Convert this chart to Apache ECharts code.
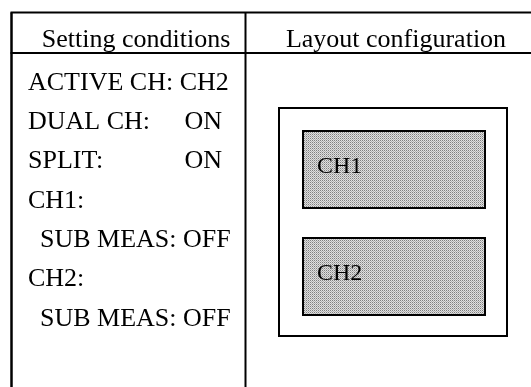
<!DOCTYPE html>
<html>
<head>
<meta charset="utf-8">
<script src="https://cdn.jsdelivr.net/npm/echarts@6/dist/echarts.min.js"></script>
<style>
html,body{margin:0;padding:0;background:#fff;}
#main{width:531px;height:387px;}
</style>
</head>
<body>
<div id="main"></div>
<script>
// ---- data ----
var headers = ['Setting conditions', 'Layout configuration'];
var settingLabels = ['ACTIVE CH: CH2', 'DUAL CH:', 'SPLIT:', 'CH1:', 'SUB MEAS: OFF', 'CH2:', 'SUB MEAS: OFF'];
var settingValues = ['', 'ON', 'ON', '', '', '', ''];
var settingLevels = [0, 0, 0, 0, 1, 0, 1];
var layoutChannels = ['CH1', 'CH2'];

// ---- halftone pattern ----
function makePattern() {
  var c = document.createElement('canvas');
  c.width = 2; c.height = 2;
  var ctx = c.getContext('2d');
  ctx.fillStyle = '#e0e0e0'; ctx.fillRect(0, 0, 2, 2);
  ctx.fillStyle = '#808080'; ctx.fillRect(0, 0, 1, 1);
  ctx.fillStyle = '#b0b0b0'; ctx.fillRect(1, 1, 1, 1);
  return { image: c, repeat: 'repeat' };
}
var pattern = makePattern();

var FONT = '"Liberation Serif","Times New Roman",serif';
var ink = '#000';
var els = [];

// table frame
var L = 11.5, T = 12.5, R = 531, B = 387, D = 245.5, H = 53;
els.push({ type: 'line', shape: { x1: L - 1, y1: T, x2: R, y2: T }, style: { stroke: ink, lineWidth: 2 } });
els.push({ type: 'line', shape: { x1: L - 1, y1: H, x2: R, y2: H }, style: { stroke: ink, lineWidth: 2 } });
els.push({ type: 'line', shape: { x1: L, y1: T, x2: L, y2: B }, style: { stroke: ink, lineWidth: 2.5 } });
els.push({ type: 'line', shape: { x1: D, y1: T, x2: D, y2: B }, style: { stroke: ink, lineWidth: 2 } });

// headers
var headerX = [136, 396];
headers.forEach(function (h, i) {
  els.push({ type: 'text', style: { text: h, x: headerX[i], y: 40, font: '26px ' + FONT, fill: ink, textAlign: 'center', textVerticalAlign: 'middle' } });
});

// settings rows
var rowStart = 83, rowStep = 39.3;
settingLabels.forEach(function (t, i) {
  var y = rowStart + i * rowStep;
  els.push({ type: 'text', style: { text: t, x: 28 + settingLevels[i] * 12, y: y, font: '26px ' + FONT, fill: ink, textAlign: 'left', textVerticalAlign: 'middle' } });
  if (settingValues[i]) {
    els.push({ type: 'text', style: { text: settingValues[i], x: 222, y: y, font: '26px ' + FONT, fill: ink, textAlign: 'right', textVerticalAlign: 'middle' } });
  }
});

// layout diagram
els.push({ type: 'rect', shape: { x: 279, y: 108, width: 228, height: 228 }, style: { fill: '#fff', stroke: ink, lineWidth: 2 } });
var boxTops = [131, 238];
layoutChannels.forEach(function (ch, i) {
  els.push({ type: 'rect', shape: { x: 303, y: boxTops[i], width: 182, height: 77 }, style: { fill: pattern, stroke: ink, lineWidth: 2 } });
  els.push({ type: 'text', style: { text: ch, x: 317, y: boxTops[i] + 36, font: '24px ' + FONT, fill: ink, textAlign: 'left', textVerticalAlign: 'middle' } });
});

var chart = echarts.init(document.getElementById('main'), null, { renderer: 'canvas' });
chart.setOption({
  backgroundColor: '#fff',
  animation: false,
  graphic: { elements: els }
});
</script>
</body>
</html>
